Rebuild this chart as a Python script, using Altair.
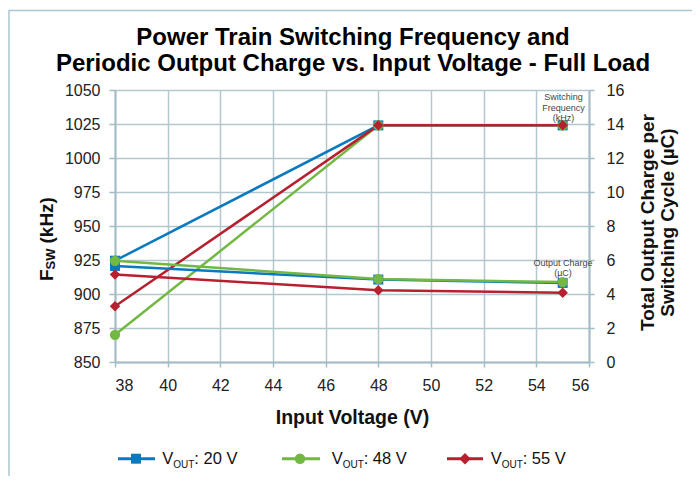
import altair as alt
import pandas as pd

# ---- data ----
vin = [38, 48, 55]
series = ["VOUT: 20 V", "VOUT: 48 V", "VOUT: 55 V"]
fsw_20 = [924.5, 1024, 1024]
fsw_48 = [870, 1024, 1024]
fsw_55 = [891, 1024, 1024]
q_20 = [5.65, 4.85, 4.65]
q_48 = [5.95, 4.88, 4.70]
q_55 = [5.15, 4.22, 4.08]

title_lines = ["Power Train Switching Frequency and",
               "Periodic Output Charge vs. Input Voltage - Full Load"]

colors = ["#0a7abf", "#72b843", "#b7202e"]
shapes = ["square", "circle", "diamond"]
sizes = [100, 110, 130]

rows = []
for s, f, q in zip(series, [fsw_20, fsw_48, fsw_55], [q_20, q_48, q_55]):
    for v, fv, qv in zip(vin, f, q):
        rows.append({"vin": v, "series": s, "fsw": fv, "charge": qv})
df = pd.DataFrame(rows)

FONT = "Liberation Sans"
GRID = "#b3c7cf"
DOMAIN = "#a3bcc6"

xenc = alt.X(
    "vin:Q",
    scale=alt.Scale(domain=[38, 56], nice=False, zero=False),
    axis=alt.Axis(
        values=list(range(38, 57, 2)), title="Input Voltage (V)",
        titleX=237, titleY=61, titleAlign="center", titleBaseline="alphabetic",
        titleFontSize=19.5, titleFontWeight="bold", titleFont=FONT, titleColor="#111",
        labelFontSize=16, labelFont=FONT, labelColor="#222", labelPadding=10,
        tickSize=5, tickColor=DOMAIN, tickWidth=1.5, domainColor=DOMAIN, domainWidth=2,
        grid=True, gridColor=GRID, gridWidth=1.5,
    ),
)
color = alt.Color("series:N", scale=alt.Scale(domain=series, range=colors), legend=None)
shape = alt.Shape("series:N", scale=alt.Scale(domain=series, range=shapes), legend=None)
size = alt.Size("series:N", scale=alt.Scale(domain=series, range=sizes), legend=None)

base = alt.Chart(df)

yleft = alt.Y(
    "fsw:Q",
    scale=alt.Scale(domain=[850, 1050], nice=False, zero=False),
    axis=alt.Axis(
        orient="left", values=list(range(850, 1051, 25)), format="d", title=None,
        labelFontSize=16, labelFont=FONT, labelColor="#222", labelPadding=9,
        tickSize=6, tickColor=DOMAIN, tickWidth=1.5, domainColor=DOMAIN, domainWidth=2,
        grid=True, gridColor=GRID, gridWidth=1.5,
    ),
)
yright = alt.Y(
    "charge:Q",
    scale=alt.Scale(domain=[0, 16], nice=False, zero=False),
    axis=alt.Axis(
        orient="right", values=list(range(0, 17, 2)), format="d",
        title=["Total Output Charge per", "Switching Cycle (µC)"],
        titleAngle=270, titleX=64, titleY=132, titleAlign="center",
        titleBaseline="alphabetic", titleLineHeight=20,
        titleFontSize=19, titleFontWeight="bold", titleFont=FONT, titleColor="#111",
        labelFontSize=16, labelFont=FONT, labelColor="#222", labelPadding=12,
        tickSize=5, tickColor=DOMAIN, tickWidth=1.5, domainColor=DOMAIN, domainWidth=2,
        grid=False,
    ),
)

fsw_lines = base.mark_line(strokeWidth=2.5).encode(x=xenc, y=yleft, color=color, detail="series:N")
fsw_pts = base.mark_point(filled=True, opacity=1).encode(x=xenc, y=yleft, color=color, shape=shape, size=size)
q_lines = base.mark_line(strokeWidth=2.5).encode(x=xenc, y=yright, color=color, detail="series:N")
q_pts = base.mark_point(filled=True, opacity=1).encode(x=xenc, y=yright, color=color, shape=shape, size=size)

left = alt.layer(fsw_lines, fsw_pts)
right = alt.layer(q_lines, q_pts)

one = alt.Data(values=[{"k": 1}])


def txt(text, x, y, size, bold=False, angle=0, align="left", baseline="alphabetic", color="#111"):
    kw = dict(text=text, fontSize=size, font=FONT, align=align, baseline=baseline, color=color)
    if bold:
        kw["fontWeight"] = "bold"
    if angle:
        kw["angle"] = angle
    return alt.Chart(one).mark_text(**kw).encode(x=alt.value(x), y=alt.value(y))


deco = []
# frame
deco.append(
    alt.Chart(one).mark_rect(fill="transparent", stroke="#a9c8d4", strokeWidth=1.5).encode(
        x=alt.value(-106), y=alt.value(-79.5), x2=alt.value(700), y2=alt.value(500)
    )
)
# main title (two centred lines)
deco.append(txt(title_lines[0], 238, -45, 24, bold=True, align="center", color="#000"))
deco.append(txt(title_lines[1], 238, -19, 24, bold=True, align="center", color="#000"))
# left axis title F_SW (kHz)
deco.append(txt("F", -62, 191, 19, bold=True, angle=270))
deco.append(txt("SW", -60, 179.4, 13, bold=True, angle=270))
deco.append(txt("(kHz)", -62, 153.5, 19, bold=True, angle=270))
# annotations
for t, yy in [("Switching", 6.7), ("Frequency", 18), ("(kHz)", 28.3)]:
    deco.append(txt(t, 448.5, yy, 9, align="center", baseline="middle", color="#444"))
for t, yy in [("Output Charge", 173.3), ("(µC)", 182.7)]:
    deco.append(txt(t, 448, yy, 9, align="center", baseline="middle", color="#444"))

# custom legend
leg = [(3, 40, 21, 47.3), (167, 205, 185, 216.7), (332, 368, 350, 375.7)]
for (x1, x2, xm, xv), c, shp, sz, s in zip(leg, colors, shapes, sizes, series):
    deco.append(
        alt.Chart(one).mark_rule(color=c, strokeWidth=3).encode(
            x=alt.value(x1), x2=alt.value(x2), y=alt.value(368.7)
        )
    )
    deco.append(
        alt.Chart(one).mark_point(shape=shp, size=sz, filled=True, opacity=1, color=c).encode(
            x=alt.value(xm), y=alt.value(368.7)
        )
    )
    deco.append(txt("V", xv, 374, 16.5, color="#111"))
    deco.append(txt("OUT", xv + 11, 378, 10, color="#111"))
    deco.append(txt(s.split("VOUT")[1], xv + 32, 374, 16.5, color="#111"))

chart = (
    alt.layer(left, right, *deco)
    .resolve_scale(y="independent")
    .properties(
        width=474,
        height=272,
        autosize=alt.AutoSizeParams(type="none"),
        padding={"left": 107, "top": 82, "right": 103, "bottom": 114},
    )
    .configure_view(strokeOpacity=0)
    .configure(background="white")
)

chart.save("out.html", embed_options={"renderer": "svg", "actions": False})
